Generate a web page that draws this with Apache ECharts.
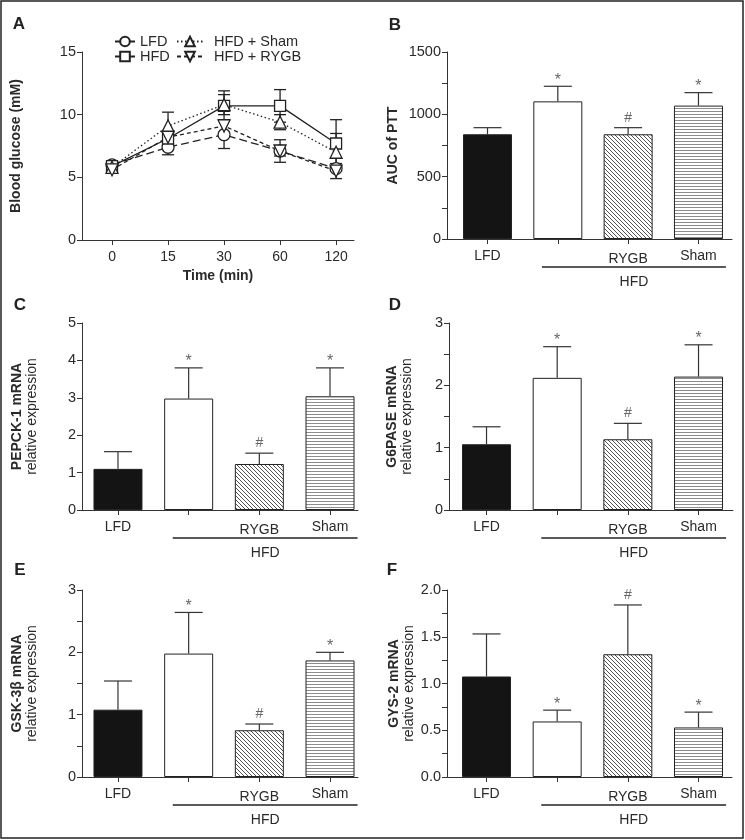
<!DOCTYPE html>
<html><head><meta charset="utf-8">
<script src="https://cdn.jsdelivr.net/npm/echarts@6/dist/echarts.min.js"></script>
<style>html,body{margin:0;padding:0;background:#fff}#c{width:745px;height:840px}</style>
</head><body><div id="c"></div>
<script>
// ---------- data ----------
const timeLabels = ['0', '15', '30', '60', '120'];
const lfdGlu = [6.0, 7.4, 8.4, 7.1, 5.7];
const lfdGluErr = [0.2, 0.6, 1.1, 0.4, 0.2];
const hfdGlu = [5.9, 8.1, 10.7, 10.7, 7.7];
const hfdGluErr = [0.2, 0.5, 1.2, 1.3, 1.9];
const shamGlu = [5.8, 9.1, 10.8, 9.4, 7.0];
const shamGluErr = [0.2, 1.1, 0.8, 0.6, 1.5];
const rygbGlu = [5.6, 8.2, 9.1, 7.1, 5.5];
const rygbGluErr = [0.2, 0.5, 0.5, 0.9, 0.6];

const groups = ['LFD', '', 'RYGB', 'Sham'];
const groupHeader = 'HFD';
const sigMarks = ['', '*', '#', '*'];

const auc = [840, 1104, 840, 1070];
const aucErr = [53, 121, 53, 104];
const pepck = [1.10, 2.98, 1.23, 3.04];
const pepckErr = [0.46, 0.82, 0.29, 0.76];
const g6pase = [1.055, 2.12, 1.135, 2.14];
const g6paseErr = [0.28, 0.50, 0.255, 0.51];
const gsk = [1.08, 1.98, 0.75, 1.87];
const gskErr = [0.46, 0.66, 0.10, 0.13];
const gys = [1.075, 0.594, 1.313, 0.53];
const gysErr = [0.455, 0.121, 0.527, 0.164];

// ---------- styles ----------
const FONT = '"Liberation Sans", Arial, Helvetica, sans-serif';
const TXT = '#2a2a2a';
const AX = '#333';

function diagPattern() {
  const c = document.createElement('canvas'); c.width = 4; c.height = 4;
  const g = c.getContext('2d');
  g.fillStyle = '#fff'; g.fillRect(0, 0, 4, 4);
  g.strokeStyle = '#555'; g.lineWidth = 1;
  g.beginPath();
  g.moveTo(-1, -1); g.lineTo(5, 5);
  g.moveTo(-1, 3); g.lineTo(1, 5);
  g.moveTo(3, -1); g.lineTo(5, 1);
  g.stroke();
  return c;
}
function horizPattern() {
  const c = document.createElement('canvas'); c.width = 4; c.height = 3;
  const g = c.getContext('2d');
  g.fillStyle = '#fff'; g.fillRect(0, 0, 4, 3);
  g.fillStyle = '#8c8c8c'; g.fillRect(0, 0, 4, 1);
  return c;
}
const fills = ['#141414', '#fff', { image: diagPattern(), repeat: 'repeat' }, { image: horizPattern(), repeat: 'repeat' }];

// ---------- layout ----------
const grids = [
  { left: 82, top: 52, width: 272, height: 188 },   // A
  { left: 447, top: 52, width: 285, height: 187 },  // B
  { left: 82, top: 323, width: 276, height: 187 },  // C
  { left: 449, top: 323, width: 284, height: 187 }, // D
  { left: 82, top: 590, width: 276, height: 187 },  // E
  { left: 447, top: 590, width: 285, height: 187 }  // F
];

const barPanels = [
  { g: 1, vals: auc, errs: aucErr, max: 1500, step: 250, lab: v => (v % 500 === 0 ? String(v) : ''), xr: [-0.576, 3.477], name: '{b|AUC of PTT}', gap: 46 },
  { g: 2, vals: pepck, errs: pepckErr, max: 5, step: 1, lab: v => String(v), xr: [-0.509, 3.396], name: '{b|PEPCK-1 mRNA}\n{n|relative expression}', gap: 42 },
  { g: 3, vals: g6pase, errs: g6paseErr, max: 3, step: 0.5, lab: v => (Number.isInteger(v) ? String(v) : ''), xr: [-0.531, 3.488], name: '{b|G6PASE mRNA}\n{n|relative expression}', gap: 34 },
  { g: 4, vals: gsk, errs: gskErr, max: 3, step: 0.5, lab: v => (Number.isInteger(v) ? String(v) : ''), xr: [-0.509, 3.396], name: '{b|GSK-3β mRNA}\n{n|relative expression}', gap: 42 },
  { g: 5, vals: gys, errs: gysErr, max: 2, step: 0.25, lab: v => (Math.abs(v * 2 - Math.round(v * 2)) < 1e-9 ? v.toFixed(1) : ''), xr: [-0.559, 3.474], name: '{b|GYS-2 mRNA}\n{n|relative expression}', gap: 30 }
];

const nameRich = {
  b: { fontFamily: FONT, fontSize: 14, fontWeight: 'bold', color: TXT, lineHeight: 15 },
  n: { fontFamily: FONT, fontSize: 14, color: TXT, lineHeight: 15 }
};

function baseY(gi, max, step, lab, name, gap) {
  return {
    gridIndex: gi, type: 'value', min: 0, max: max, interval: step,
    axisLine: { show: true, onZero: false, lineStyle: { color: AX, width: 1 } },
    axisTick: { show: true, length: 5, lineStyle: { color: AX } },
    axisLabel: { fontFamily: FONT, fontSize: 14.5, color: TXT, margin: 6, formatter: lab },
    splitLine: { show: false },
    name: name, nameLocation: 'middle', nameGap: gap, nameRotate: 90,
    nameTextStyle: { rich: nameRich, align: 'center' }
  };
}

const xAxes = [], yAxes = [], series = [];

// Panel A
xAxes.push({
  gridIndex: 0, type: 'value', min: -0.536, max: 4.32,
  axisLine: { onZero: false, lineStyle: { color: AX } },
  axisTick: { length: 5, customValues: [0, 1, 2, 3, 4], lineStyle: { color: AX } },
  axisLabel: { customValues: [0, 1, 2, 3, 4], formatter: v => timeLabels[Math.round(v)], fontFamily: FONT, fontSize: 14, color: TXT, margin: 10 },
  splitLine: { show: false },
  name: 'Time (min)', nameLocation: 'middle', nameGap: 29,
  nameTextStyle: { fontFamily: FONT, fontSize: 14, fontWeight: 'bold', color: TXT }
});
yAxes.push(baseY(0, 15, 5, v => String(v), '{b|Blood glucose (mM)}', 58));

const gluSeries = [
  { name: 'LFD', d: lfdGlu, e: lfdGluErr, sym: 'circle', dash: [8, 4] },
  { name: 'HFD', d: hfdGlu, e: hfdGluErr, sym: 'rect', dash: 'solid' },
  { name: 'HFD + Sham', d: shamGlu, e: shamGluErr, sym: 'triangle', dash: [1.5, 2.5] },
  { name: 'HFD + RYGB', d: rygbGlu, e: rygbGluErr, sym: 'path://M0,0 L10,0 L5,9 Z', dash: [4, 3] }
];
gluSeries.forEach(s => {
  series.push({
    type: 'custom', xAxisIndex: 0, yAxisIndex: 0, z: 2, silent: true,
    data: s.d.map((v, i) => [i, v, s.e[i]]),
    renderItem: (params, api) => {
      const x = api.value(0), y = api.value(1), e = api.value(2);
      const lo = api.coord([x, y - e]), hi = api.coord([x, y + e]);
      const st = { stroke: '#222', lineWidth: 1.3 };
      return { type: 'group', children: [
        { type: 'line', shape: { x1: lo[0], y1: lo[1], x2: hi[0], y2: hi[1] }, style: st },
        { type: 'line', shape: { x1: lo[0] - 6, y1: lo[1], x2: lo[0] + 6, y2: lo[1] }, style: st },
        { type: 'line', shape: { x1: hi[0] - 6, y1: hi[1], x2: hi[0] + 6, y2: hi[1] }, style: st }
      ] };
    }
  });
});
gluSeries.forEach(s => {
  series.push({
    type: 'line', name: s.name, xAxisIndex: 0, yAxisIndex: 0, z: 5,
    data: s.d.map((v, i) => [i, v]),
    symbol: s.sym, symbolSize: s.sym === 'rect' ? 11 : 12, showAllSymbol: true,
    itemStyle: { color: '#fff', borderColor: '#222', borderWidth: 1.3 },
    lineStyle: { color: '#222', width: 1.3, type: s.dash },
    emphasis: { disabled: true }
  });
});

// Bar panels
barPanels.forEach(p => {
  xAxes.push({
    gridIndex: p.g, type: 'value', min: p.xr[0], max: p.xr[1],
    axisLine: { onZero: false, lineStyle: { color: AX } },
    axisTick: { length: 5, customValues: [0, 1, 2, 3], lineStyle: { color: AX } },
    axisLabel: {
      customValues: [0, 1, 2, 3], margin: 10, fontFamily: FONT, fontSize: 14, color: TXT,
      formatter: v => { const t = groups[Math.round(v)]; return t === 'RYGB' ? '{low|' + t + '}' : t; },
      rich: { low: { fontFamily: FONT, fontSize: 14, color: TXT, padding: [3, 0, 0, 0] } }
    },
    splitLine: { show: false }
  });
  yAxes.push(baseY(p.g, p.max, p.step, p.lab, p.name, p.gap));
  series.push({
    type: 'bar', xAxisIndex: p.g, yAxisIndex: p.g, barWidth: 49, z: 2,
    data: p.vals.map((v, i) => ({ value: [i, v], itemStyle: { color: fills[i], borderColor: '#222', borderWidth: 1 } })),
    emphasis: { disabled: true }
  });
  series.push({
    type: 'custom', xAxisIndex: p.g, yAxisIndex: p.g, z: 3, silent: true,
    data: p.vals.map((v, i) => [i, v, p.errs[i]]),
    renderItem: (params, api) => {
      const x = api.value(0), y = api.value(1), e = api.value(2);
      const b = api.coord([x, y]), t = api.coord([x, y + e]);
      const st = { stroke: '#333', lineWidth: 1.2 };
      const ch = [
        { type: 'line', shape: { x1: b[0], y1: b[1], x2: t[0], y2: t[1] }, style: st },
        { type: 'line', shape: { x1: t[0] - 14, y1: t[1], x2: t[0] + 14, y2: t[1] }, style: st }
      ];
      const s = sigMarks[params.dataIndex];
      if (s) ch.push({ type: 'text', style: { text: s, x: t[0], y: t[1] - (s === '*' ? 6 : 10), align: 'center', verticalAlign: 'middle', fontFamily: FONT, fontSize: s === '*' ? 16 : 14, fill: '#666' } });
      return { type: 'group', children: ch };
    }
  });
});

const legendText = { fontFamily: FONT, fontSize: 14.5, color: TXT };
const legendBase = { orient: 'horizontal', itemWidth: 20, itemHeight: 12, padding: 0, selectedMode: false, textStyle: legendText };
const legends = [
  Object.assign({}, legendBase, { data: ['LFD'], left: 114, top: 34 }),
  Object.assign({}, legendBase, { data: ['HFD'], left: 114, top: 49 }),
  Object.assign({}, legendBase, { data: ['HFD + Sham'], left: 176, top: 34, itemWidth: 26, textStyle: Object.assign({}, legendText, { padding: [0, 0, 0, 6] }) }),
  Object.assign({}, legendBase, { data: ['HFD + RYGB'], left: 176, top: 49, itemWidth: 26, textStyle: Object.assign({}, legendText, { padding: [0, 0, 0, 6] }) })
];

const chart = echarts.init(document.getElementById('c'), null, { renderer: 'canvas' });
chart.setOption({
  backgroundColor: '#fff',
  animation: false,
  grid: grids,
  xAxis: xAxes,
  yAxis: yAxes,
  legend: legends,
  series: series
});

// panel letters, frame, and HFD group brackets (positioned via axis scales)
const letters = [['A', 19, 24], ['B', 395, 25], ['C', 20, 305], ['D', 395, 305], ['E', 20, 570], ['F', 392, 570]];
const gfx = [
  { type: 'rect', shape: { x: 1, y: 1, width: 742, height: 837 }, style: { fill: null, stroke: '#222', lineWidth: 1.5 }, silent: true }
];
letters.forEach(l => gfx.push({ type: 'text', x: l[1], y: l[2], style: { text: l[0], align: 'center', verticalAlign: 'middle', fontFamily: FONT, fontSize: 17, fontWeight: 'bold', fill: '#222' } }));
barPanels.forEach(p => {
  const a = chart.convertToPixel({ xAxisIndex: p.g, yAxisIndex: p.g }, [0.775, 0]);
  const b = chart.convertToPixel({ xAxisIndex: p.g, yAxisIndex: p.g }, [3.39, 0]);
  gfx.push({ type: 'line', shape: { x1: a[0], y1: a[1] + 28, x2: b[0], y2: b[1] + 28 }, style: { stroke: '#222', lineWidth: 1.6 } });
  gfx.push({ type: 'text', x: (a[0] + b[0]) / 2, y: a[1] + 43, style: { text: groupHeader, align: 'center', verticalAlign: 'middle', fontFamily: FONT, fontSize: 14, fill: TXT } });
});
chart.setOption({ graphic: gfx });
</script>
</body></html>
